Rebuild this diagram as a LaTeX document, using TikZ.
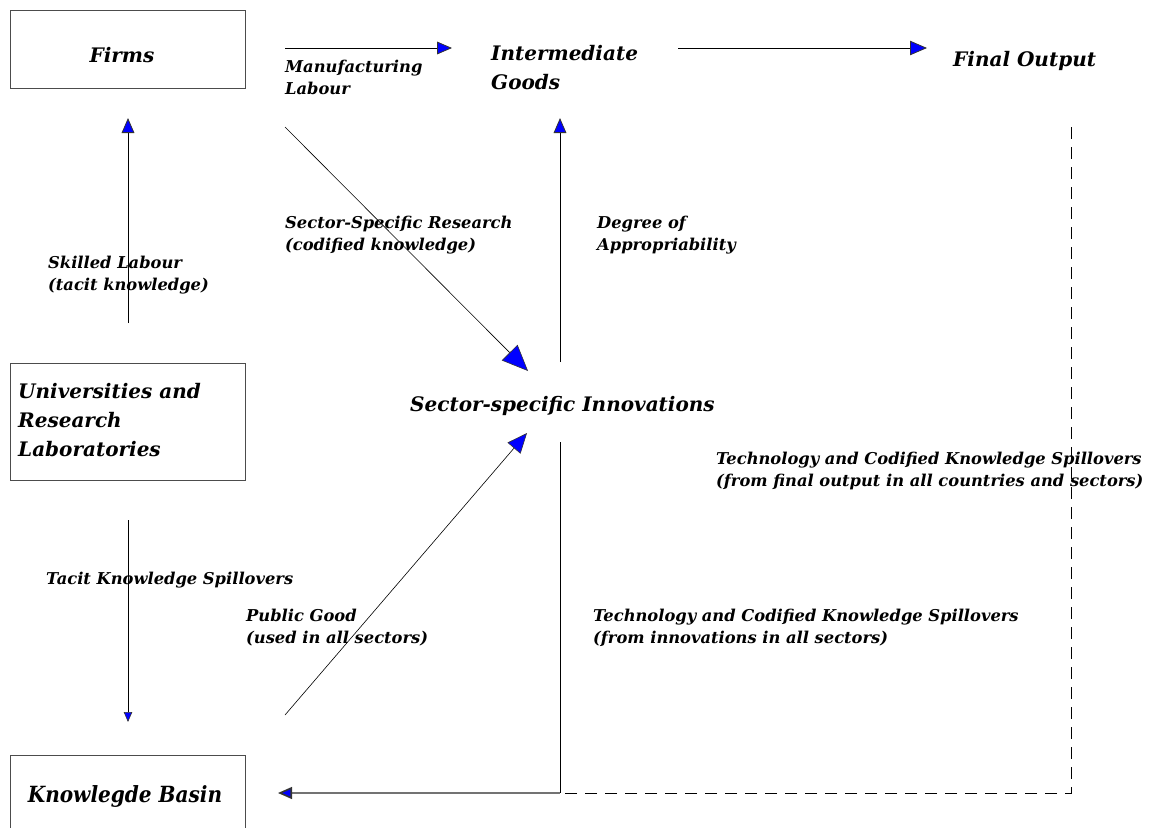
\documentclass[tikz,border=0pt]{standalone}
\usepackage{fontspec}
\setmainfont{DejaVu Serif}
\newfontfamily\kbfont{DejaVu Serif Condensed}
\usetikzlibrary{arrows.meta}
\tikzset{
  big/.style={inner sep=0pt,anchor=base west,align=left,font=\fontsize{20}{29}\selectfont\bfseries\itshape},
  small/.style={inner sep=0pt,anchor=base west,align=left,font=\fontsize{16.3}{22}\selectfont\bfseries\itshape},
  boxnode/.style={draw=black!70,line width=1pt,rectangle,inner sep=0pt},
  conn/.style={line width=0.8pt,black},
  tip/.style={-{Triangle[length=#1,width=0.85*#1,fill=blue,color=black!80]}},
}
\begin{document}
\begin{tikzpicture}[x=1pt,y=-1pt]
\useasboundingbox (0,0) rectangle (1153,827);
% boxes
\node[boxnode,minimum width=235pt,minimum height=78pt,anchor=north west] (firmsbox) at (10,10) {};
\node[big,anchor=base] (firms) at (122,62) {Firms};
\node[boxnode,minimum width=235pt,minimum height=117pt,anchor=north west] (unibox) at (10,363) {};
\node[big] (uni) at (18,456) {Universities and\\Research\\Laboratories};
\node[boxnode,minimum width=235pt,minimum height=90pt,anchor=north west] (kbbox) at (10,755) {};
\node[big,anchor=base,font=\fontsize{22.3}{29}\selectfont\kbfont\bfseries\itshape] (kb) at (125,802) {Knowlegde Basin};
% plain labels
\node[big] (inter) at (491,89) {Intermediate\\Goods};
\node[big] (final) at (953,66) {Final Output};
\node[big] (innov) at (410,411) {Sector-specific Innovations};
\node[small] (manlab) at (285,94) {Manufacturing\\Labour};
\node[small] (ssr) at (285,250) {Sector-Specific Research\\(codified knowledge)};
\node[small] (doa) at (597,250) {Degree of\\Appropriability};
\node[small] (skl) at (48,290) {Skilled Labour\\(tacit knowledge)};
\node[small] (tks) at (46,584) {Tacit Knowledge Spillovers};
\node[small] (pg) at (246,643) {Public Good\\(used in all sectors)};
\node[small] (tcb) at (593,643) {Technology and Codified Knowledge Spillovers\\(from innovations in all sectors)};
\node[small] (tcr) at (716,486) {Technology and Codified Knowledge Spillovers\\(from final output in all countries and sectors)};
% connector end points
\coordinate (c1s) at (285,48); \coordinate (c1e) at (452,48);
\coordinate (c2s) at (678,48); \coordinate (c2e) at (927,48);
\coordinate (c3s) at (128,323); \coordinate (c3e) at (128,118);
\coordinate (c4s) at (285,127); \coordinate (c4e) at (528,371);
\coordinate (c5s) at (560,362); \coordinate (c5e) at (560,118);
\coordinate (c6s) at (128,520); \coordinate (c6e) at (128,722);
\coordinate (c7s) at (285,715); \coordinate (c7e) at (527,433);
\coordinate (c8s) at (560,442); \coordinate (c8m) at (560,793); \coordinate (c8e) at (278,793);
\coordinate (c9s) at (1071,127); \coordinate (c9m) at (1071,793); \coordinate (c9e) at (562,793);
% connectors
\draw[conn,tip=15pt] (c1s) -- (c1e);
\draw[conn,tip=17pt] (c2s) -- (c2e);
\draw[conn,tip=15pt] (c3s) -- (c3e);
\draw[conn,line width=0.6pt,tip=26pt] (c4s) -- (c4e);
\draw[conn,tip=15pt] (c5s) -- (c5e);
\draw[conn,line width=0.6pt,tip=10pt] (c6s) -- (c6e);
\draw[conn,line width=0.6pt,tip=20pt] (c7s) -- (c7e);
\draw[conn,line width=0.6pt] (c8s) -- (c8m);
\draw[line width=1.6pt,black!55,tip=14pt] (c8m) -- (c8e);
\draw[line width=0.8pt,dash pattern=on 12pt off 8pt] (c9s) -- (c9m) -- (c9e);
\end{tikzpicture}
\end{document}
